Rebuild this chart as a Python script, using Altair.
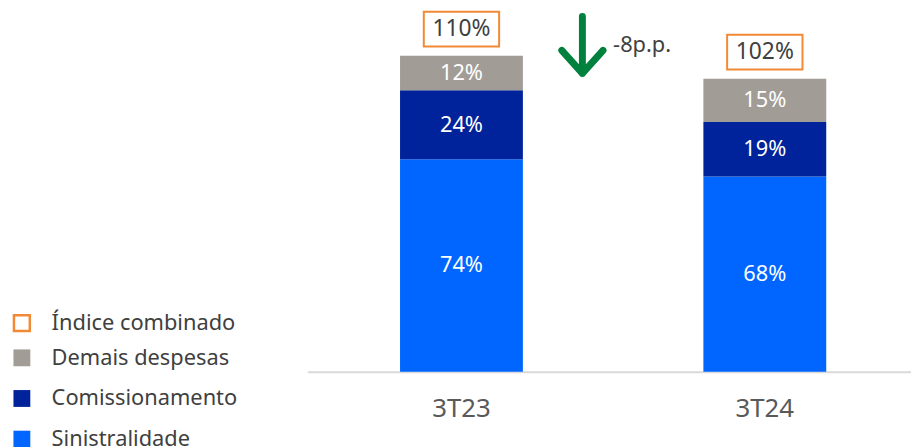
import altair as alt
import pandas as pd

# ---- data ----
periods = ["3T23", "3T24"]
components = ["Sinistralidade", "Comissionamento", "Demais despesas"]
sinistralidade = [74, 68]
comissionamento = [24, 19]
demais_despesas = [12, 15]
indice_combinado = [110, 102]
change_text = ["-8p.p."]

legend_components = ["Demais despesas", "Comissionamento", "Sinistralidade"]
component_colors = ["#a19c96", "#00229a", "#0066ff"]
orange = "#f28a35"
green = "#00813d"
FONT = "Noto Sans"
SHIFT = 4

rows = []
for i, p in enumerate(periods):
    for k, (name, vals) in enumerate(zip(components, [sinistralidade, comissionamento, demais_despesas])):
        rows.append({"period": p, "component": name, "value": vals[i], "ord": k})
df = pd.DataFrame(rows)
tot = pd.DataFrame({"period": periods, "total": indice_combinado, "label": ["Índice combinado"] * 2})
ann = pd.DataFrame({"period": [periods[0]], "total": [indice_combinado[0]], "text": change_text})

xscale = alt.Scale(domain=periods, paddingInner=0.595, paddingOuter=0.2925)
yscale = alt.Scale(domain=[0, 126], nice=False, zero=True)

x_enc = alt.X("period:N", scale=xscale, sort=periods, title=None,
              axis=alt.Axis(labelAngle=0, ticks=False, domainColor="#d9d9d9", domainWidth=2,
                            labelFontSize=26, labelColor="#595959", labelPadding=24,
                            labelOffset=SHIFT, labelFont=FONT, grid=False))

bars = alt.Chart(df).mark_bar(xOffset=SHIFT).encode(
    x=x_enc,
    y=alt.Y("value:Q", stack="zero", scale=yscale, axis=None),
    fill=alt.Fill("component:N",
                  scale=alt.Scale(domain=legend_components, range=component_colors),
                  legend=alt.Legend(title=None, orient="none", legendX=-299, legendY=340,
                                    symbolType="square", symbolSize=289, symbolStrokeWidth=0,
                                    labelFontSize=22, labelColor="#404040", labelFont=FONT,
                                    labelOffset=19, rowPadding=19, labelLimit=400)),
    order=alt.Order("ord:Q", sort="ascending"),
)

seg_text = alt.Chart(df).transform_stack(
    stack="value", groupby=["period"], sort=[alt.SortField("ord", order="ascending")], as_=["v0", "v1"]
).transform_calculate(
    mid="(datum.v0 + datum.v1) / 2", lbl="datum.value + '%'"
).mark_text(color="white", fontSize=22, font=FONT, baseline="middle", xOffset=SHIFT).encode(
    x=alt.X("period:N", scale=xscale, sort=periods),
    y=alt.Y("mid:Q", scale=yscale),
    text="lbl:N",
)

box_path = "M-1,-0.46H1V0.46H-1Z"
boxes = alt.Chart(tot).mark_point(shape=box_path, size=5776, filled=False, strokeWidth=2,
                                  opacity=1, yOffset=-27, xOffset=SHIFT).encode(
    x=alt.X("period:N", scale=xscale, sort=periods),
    y=alt.Y("total:Q", scale=yscale),
    stroke=alt.Stroke("label:N", scale=alt.Scale(domain=["Índice combinado"], range=[orange]),
                      legend=alt.Legend(title=None, orient="none", legendX=-299, legendY=305,
                                        symbolType="square", symbolSize=256, symbolStrokeWidth=2.5,
                                        labelFontSize=22, labelColor="#404040", labelFont=FONT,
                                        labelOffset=19, labelLimit=400)),
)

box_text = alt.Chart(tot).transform_calculate(lbl="datum.total + '%'").mark_text(
    color="#404040", fontSize=23, font=FONT, baseline="middle", yOffset=-27, xOffset=SHIFT
).encode(
    x=alt.X("period:N", scale=xscale, sort=periods),
    y=alt.Y("total:Q", scale=yscale),
    text="lbl:N",
)

arrow_path = "M0,-1L0,0.93M-0.7,0.15L0,0.93L0.7,0.15"
arrow = alt.Chart(ann).mark_point(shape=arrow_path, size=3540, filled=False, stroke=green,
                                  strokeWidth=7, opacity=1, strokeCap="round", strokeJoin="round",
                                  xOffset=122 + SHIFT, yOffset=-10).encode(
    x=alt.X("period:N", scale=xscale, sort=periods),
    y=alt.Y("total:Q", scale=yscale),
)

ann_text = alt.Chart(ann).mark_text(color="#404040", fontSize=22, font=FONT, align="left",
                                    baseline="middle", xOffset=153 + SHIFT, yOffset=-11).encode(
    x=alt.X("period:N", scale=xscale, sort=periods),
    y=alt.Y("total:Q", scale=yscale),
    text="text:N",
)

chart = alt.layer(bars, seg_text, boxes, box_text, arrow, ann_text).properties(
    width=609, height=365,
    autosize=alt.AutoSizeParams(type="none"),
    padding={"left": 302, "top": 0, "right": 0, "bottom": 74},
).resolve_scale(fill="independent", stroke="independent").configure(
    font=FONT
).configure_view(stroke=None, strokeWidth=0)

chart.save("out.html", embed_options={"renderer": "svg", "actions": False})
